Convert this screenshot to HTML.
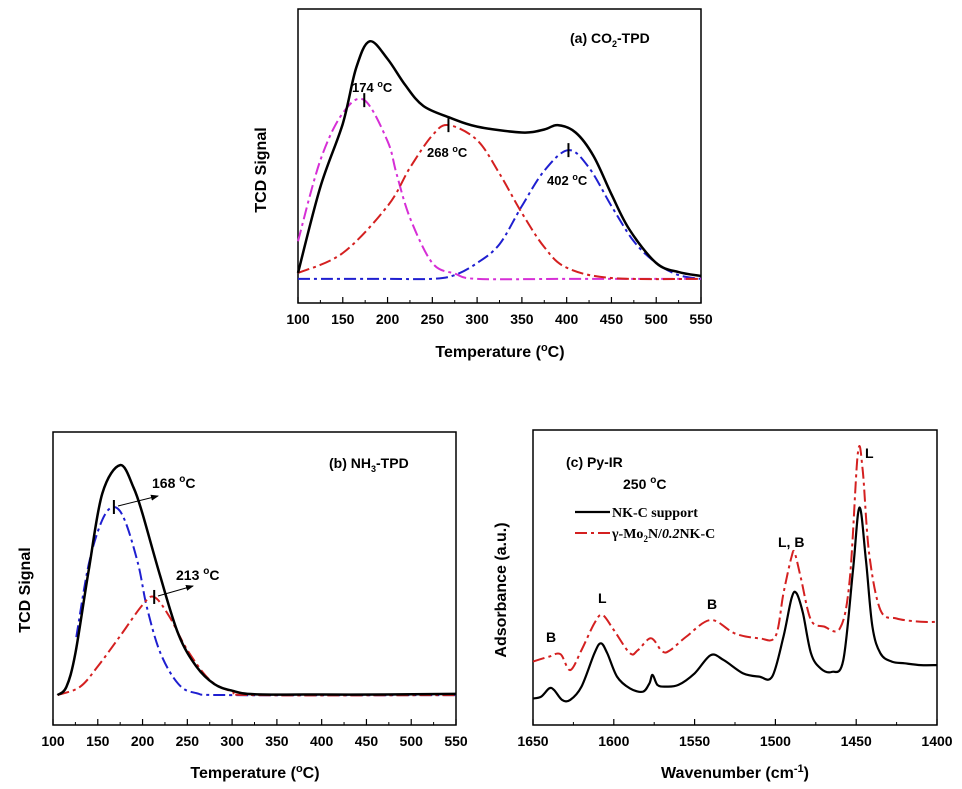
<!DOCTYPE html>
<html><head><meta charset="utf-8"><style>
body{margin:0;background:#fff;}
svg{display:block;font-family:"Liberation Sans",Arial,sans-serif;}
</style></head><body>
<svg id="fig" width="962" height="789" viewBox="0 0 962 789"></svg>
<script>
// ---- Panel (a) CO2-TPD data ----
const aTicks=[100,150,200,250,300,350,400,450,500,550];
const aTotalT=[100,125,150,165,180,200,220,240,270,300,350,375,390,410,430,450,470,500,525,550];
const aTotalV=[10.2,39.5,61,80,89,83,74,67,63,60,58,59,60.5,58,50,37,25,13.6,10.5,9.2];
const aP1T=[100,125,150,174,200,210,225,250,275,300,400,550];
const aP1V=[21,48.6,64.6,69,55,44,29,13.6,10,8.2,8.2,8.2];
const aP2T=[100,150,200,225,250,268,300,325,350,375,400,450,550];
const aP2V=[10.2,17,33,46,57,60.5,55.4,44,30.6,19,12,8.5,8.2];
const aP3T=[100,200,250,275,300,325,350,375,402,425,450,475,500,525,550];
const aP3V=[8.2,8.2,8.2,9.5,13.6,20,33,45,52,46,33,21,13.6,9.5,8.2];
// ---- Panel (b) NH3-TPD data ----
const bTotalT=[105,115,125,140,155,175,190,200,220,240,260,280,300,325,400,470,550];
const bTotalV=[10.2,13,24.5,53,79,88.7,81,72,50.5,31,20,14,11.7,10.5,10.4,10.4,10.6];
const bP1T=[126,140,155,168,180,195,205,220,240,260,300,550];
const bP1V=[30,55,70,74.4,70,55,40,24.5,14,10.9,10.2,10.2];
const bP2T=[105,130,150,175,200,213,230,250,275,300,325,550];
const bP2V=[10.2,13,20,30.4,41,43.7,37,25.6,15.4,11.4,10.2,10.2];
// ---- Panel (c) Py-IR data ----
const cTicks=[1650,1600,1550,1500,1450,1400];
const cBlackW=[1650,1645,1640,1637,1632,1627,1620,1612,1608,1604,1598,1590,1582,1578,1576,1573,1568,1560,1550,1540,1532,1520,1510,1502,1495,1490,1487,1483,1478,1472,1465,1458,1452,1448,1444,1440,1435,1428,1420,1410,1400];
const cBlackV=[9,9.6,12.4,11.9,8.5,8.5,13,24.3,27.7,24.3,16.4,12.4,11.3,14.1,17,13.6,13,13.6,17.5,23.7,22,17.5,16.4,16.4,30,43,44.7,38,24.3,19.2,18,22,52.5,73.7,56,33.4,24.3,21.5,20.9,20.3,20.3];
const cRedW=[1650,1640,1633,1627,1620,1612,1607,1600,1590,1585,1577,1570,1565,1555,1540,1525,1510,1500,1495,1490,1488,1484,1478,1470,1460,1454,1449,1446,1442,1435,1425,1410,1400];
const cRedV=[21.5,23.2,24,18.6,25.4,34.5,37.3,32.2,24.3,25.4,29.4,24.9,25.4,30,35.6,31,29.4,30,44.7,57.1,58.2,49.2,35.6,33.4,32.8,49.2,92,86.4,58.2,39,36.1,35,35];

const svg=document.getElementById('fig');
const NS='http://www.w3.org/2000/svg';
function mk(tag,attrs,parent){const e=document.createElementNS(NS,tag);for(const k in attrs)e.setAttribute(k,attrs[k]);(parent||svg).appendChild(e);return e;}
function path(pts){let d='M'+pts[0][0].toFixed(1)+','+pts[0][1].toFixed(1);
 for(let i=0;i<pts.length-1;i++){const p0=pts[Math.max(0,i-1)],p1=pts[i],p2=pts[i+1],p3=pts[Math.min(pts.length-1,i+2)];
  const c1=[p1[0]+(p2[0]-p0[0])/6,p1[1]+(p2[1]-p0[1])/6],c2=[p2[0]-(p3[0]-p1[0])/6,p2[1]-(p3[1]-p1[1])/6];
  d+=' C'+c1[0].toFixed(1)+','+c1[1].toFixed(1)+' '+c2[0].toFixed(1)+','+c2[1].toFixed(1)+' '+p2[0].toFixed(1)+','+p2[1].toFixed(1);}
 return d;}
function panel(P){
 const g=mk('g',{});
 
 
 const X=v=>P.x0+(v-P.xmin)/(P.xmax-P.xmin)*(P.x1-P.x0);
 const Y=v=>P.y1-v/100*(P.y1-P.y0);
 const box=mk('rect',{x:P.x0,y:P.y0,width:P.x1-P.x0,height:P.y1-P.y0,fill:'none',stroke:'#000','stroke-width':1.5},g);
 
 
 // ticks
 const step=P.ticks[1]-P.ticks[0];
 for(let i=0;i<P.ticks.length;i++){const t=P.ticks[i];const x=X(t);
  mk('line',{x1:x,x2:x,y1:P.y1,y2:P.y1-6,stroke:'#000','stroke-width':1.2},g);
  if(i<P.ticks.length-1){const xm=X(t+step/2);mk('line',{x1:xm,x2:xm,y1:P.y1,y2:P.y1-3,stroke:'#000','stroke-width':1},g);}
  const tl=mk('text',{x:x,y:P.y1+21,'text-anchor':'middle','font-size':14,'font-weight':'bold'},g);tl.textContent=t;
  
  }
 P.series.forEach(s=>{const pts=s.x.map((v,i)=>[X(v),Y(s.y[i])]);
  const p=mk('path',{d:path(pts),fill:'none',stroke:s.color,'stroke-width':s.w||2,'stroke-dasharray':s.dash||'none'},g);
  
  });
 (P.marks||[]).forEach(m=>{mk('line',{x1:X(m[0]),x2:X(m[0]),y1:Y(m[1])-7,y2:Y(m[1])+7,stroke:'#000','stroke-width':2},g);});
 return g;}
const dd='12 4 3 4';
panel({name:'panel-a-co2-tpd',x0:298,x1:701,y0:9,y1:303,xmin:100,xmax:550,ticks:aTicks,
 series:[{name:'co2-peak-402',x:aP3T,y:aP3V,color:'#1f1fd0',dash:dd},
 {name:'co2-peak-174',x:aP1T,y:aP1V,color:'#d62fd6',dash:dd},
 {name:'co2-peak-268',x:aP2T,y:aP2V,color:'#d42020',dash:dd},
 {name:'co2-total-curve',x:aTotalT,y:aTotalV,color:'#000',w:2.5}],
 marks:[[174,69],[268,60.5],[402,52]]});
panel({name:'panel-b-nh3-tpd',x0:53,x1:456,y0:432,y1:725,xmin:100,xmax:550,ticks:aTicks,
 series:[{name:'nh3-peak-168',x:bP1T,y:bP1V,color:'#1f1fd0',dash:dd},
 {name:'nh3-peak-213',x:bP2T,y:bP2V,color:'#d42020',dash:dd},
 {name:'nh3-total-curve',x:bTotalT,y:bTotalV,color:'#000',w:2.5}],
 marks:[[168,74.4],[213,43.7]]});
panel({name:'panel-c-py-ir',x0:533,x1:937,y0:430,y1:725,xmin:1650,xmax:1400,ticks:cTicks,
 series:[{name:'mo2n-spectrum',x:cRedW,y:cRedV,color:'#d42020',dash:dd},
 {name:'nkc-support-spectrum',x:cBlackW,y:cBlackV,color:'#000',w:2.2}]});
</script>
<svg width="962" height="789" style="position:absolute;left:0;top:0" font-family="Liberation Sans, Arial, sans-serif" font-weight="bold">
 <defs><marker id="ar" markerWidth="8" markerHeight="6" refX="7" refY="3" orient="auto"><path d="M0,0 L8,3 L0,6z" fill="#000"/></marker></defs>
 <text x="266" y="170" font-size="16" text-anchor="middle" transform="rotate(-90 266 170)">TCD Signal</text>
 <text x="500" y="357" font-size="16" text-anchor="middle">Temperature (<tspan font-size="11" dy="-6">o</tspan><tspan dy="6">C)</tspan></text>
 <text x="570" y="43" font-size="14">(a) CO<tspan font-size="9" dy="4">2</tspan><tspan dy="-4">-TPD</tspan></text>
 <text x="352" y="92" font-size="13">174 <tspan font-size="9" dy="-5">o</tspan><tspan dy="5">C</tspan></text>
 <text x="427" y="157" font-size="13">268 <tspan font-size="9" dy="-5">o</tspan><tspan dy="5">C</tspan></text>
 <text x="547" y="185" font-size="13">402 <tspan font-size="9" dy="-5">o</tspan><tspan dy="5">C</tspan></text>

 <text x="30" y="590" font-size="16" text-anchor="middle" transform="rotate(-90 30 590)">TCD Signal</text>
 <text x="255" y="778" font-size="16" text-anchor="middle">Temperature (<tspan font-size="11" dy="-6">o</tspan><tspan dy="6">C)</tspan></text>
 <text x="329" y="468" font-size="14">(b) NH<tspan font-size="9" dy="4">3</tspan><tspan dy="-4">-TPD</tspan></text>
 <text x="152" y="488" font-size="14">168 <tspan font-size="10" dy="-6">o</tspan><tspan dy="6">C</tspan></text>
 <text x="176" y="580" font-size="14">213 <tspan font-size="10" dy="-6">o</tspan><tspan dy="6">C</tspan></text>
 <line x1="118" y1="506" x2="158" y2="496" stroke="#000" stroke-width="1" marker-end="url(#ar)"/>
 <line x1="158" y1="596" x2="193" y2="586" stroke="#000" stroke-width="1" marker-end="url(#ar)"/>

 <text x="506" y="590" font-size="16" text-anchor="middle" transform="rotate(-90 506 590)">Adsorbance (a.u.)</text>
 <text x="735" y="778" font-size="16" text-anchor="middle">Wavenumber (cm<tspan font-size="11" dy="-6">-1</tspan><tspan dy="6">)</tspan></text>
 <text x="566" y="467" font-size="14">(c) Py-IR</text>
 <text x="623" y="489" font-size="14">250 <tspan font-size="10" dy="-6">o</tspan><tspan dy="6">C</tspan></text>
 <line x1="575" y1="512" x2="610" y2="512" stroke="#000" stroke-width="2.2"/>
 <text x="612" y="517" font-size="14" font-family="Liberation Serif, serif">NK-C support</text>
 <line x1="575" y1="533" x2="610" y2="533" stroke="#d42020" stroke-width="2" stroke-dasharray="12 4 3 4"/>
 <text x="612" y="538" font-size="14" font-family="Liberation Serif, serif">γ-Mo<tspan font-size="9" dy="4">2</tspan><tspan dy="-4">N/</tspan><tspan font-style="italic">0.2</tspan>NK-C</text>
 <text x="546" y="642" font-size="14">B</text>
 <text x="598" y="603" font-size="14">L</text>
 <text x="707" y="609" font-size="14">B</text>
 <text x="778" y="547" font-size="14">L, B</text>
 <text x="865" y="458" font-size="14">L</text>
</svg>
</body></html>
